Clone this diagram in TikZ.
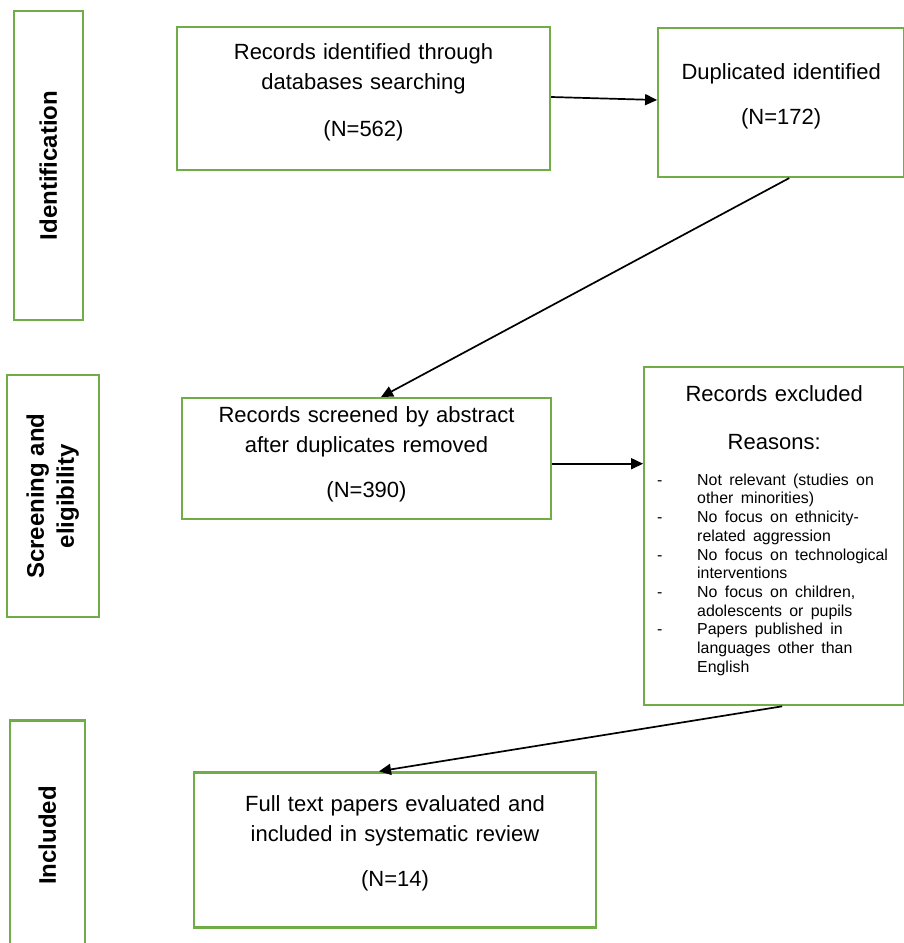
\documentclass[tikz,border=0pt]{standalone}
\usepackage{fontspec}
\usepackage{array}
\setmainfont{Liberation Sans}
\usetikzlibrary{positioning,arrows.meta}
\definecolor{boxgreen}{HTML}{70AD47}
\newcommand{\reasonfont}{\fontsize{15.9}{18.7}\selectfont}
\tikzset{
	box/.style={draw=boxgreen, line width=2.2pt, inner sep=0pt, align=center,
		font=\fontsize{22}{30}\selectfont},
	phase/.style={draw=boxgreen, line width=2.2pt, inner sep=0pt,
		font=\fontsize{24}{30}\selectfont\bfseries},
	flow/.style={draw=black, line width=1.7pt, -{Triangle[length=12pt,width=11pt]}}
}
\begin{document}
\begin{tikzpicture}[x=1pt,y=1pt]
		\useasboundingbox (0,0) rectangle (903,-943);
		% Identification
		\node[box, text width=373pt, text height=32pt, text depth=111pt] (recid) at (363.5,-98.5)
			{Records identified through\\databases searching\\[17pt](N=562)} ;
		\node[box, right=106pt of recid, yshift=-4pt, text width=246pt, text height=51pt, text depth=98pt] (dup)
			{Duplicated identified\\[15pt](N=172)} ;
		\node[phase, left=92pt of recid, yshift=-67pt, minimum width=69pt, minimum height=309pt] (identside)
			{\rotatebox{90}{Identification}} ;
		%%%%% Screening and eligibility
		\node[box, below=226pt of recid, xshift=3pt, text width=369pt, text height=24pt, text depth=97pt] (screened)
			{Records screened by abstract\\after duplicates removed\\[15pt](N=390)} ;
		\node[box, right=91pt of screened, yshift=-77.5pt, text width=260pt, text height=34pt, text depth=304pt] (excl)
			{Records excluded\\[18pt]Reasons:\\[6pt]
			{\reasonfont\begin{tabular}[t]{@{\hspace{13pt}}p{40pt}@{}>{\raggedright\arraybackslash}p{207pt}@{}}
				- & Not relevant (studies on\\
				  & other minorities)\\
				- & No focus on ethnicity-\\
				  & related aggression\\
				- & No focus on technological\\
				  & interventions\\
				- & No focus on children,\\
				  & adolescents or pupils\\
				- & Papers published in\\
				  & languages other than\\
				  & English
			\end{tabular}}} ;
		\node[phase, left=81pt of screened, yshift=-37.5pt, minimum width=92pt, minimum height=242pt] (screenside)
			{\rotatebox{90}{\begin{tabular}{@{}c@{}}Screening and\\eligibility\end{tabular}}} ;
		%%%%% Included
		\node[box, below=251pt of screened, xshift=28.5pt, text width=402pt, text height=39pt, text depth=116pt] (full)
			{Full text papers evaluated and\\included in systematic review\\[15pt](N=14)} ;
		\node[phase, left=107pt of full, yshift=14.5pt, minimum width=75pt, minimum height=230pt] (inclside)
			{\rotatebox{90}{Included}} ;
		% Arrows
		\draw[flow] ([yshift=1.5pt]recid.east) -- ([yshift=2.5pt]dup.west) ;
		\draw[flow] ([xshift=8pt]dup.south) -- ([xshift=14.5pt]screened.north) ;
		\draw[flow] ([yshift=-5pt]screened.east) -- ([yshift=-5pt]screened.east -| excl.west) ;
		\draw[flow] ([xshift=8pt]excl.south) -- ([xshift=-16pt]full.north) ;
	\end{tikzpicture}
\end{document}
